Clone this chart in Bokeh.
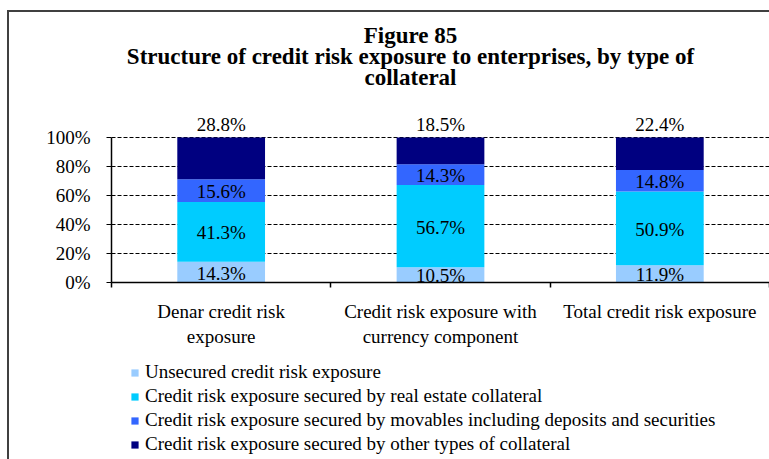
import numpy as np
from bokeh.plotting import figure
from bokeh.layouts import column
from bokeh.models import (Range1d, FixedTicker, NumeralTickFormatter, Legend,
                          LegendItem, Label, ColumnDataSource)
from bokeh.core.properties import value
from bokeh.embed import file_html
from bokeh.resources import INLINE

# ---------------- data ----------------
categories = ["Denar credit risk\nexposure",
              "Credit risk exposure with\ncurrency component",
              "Total credit risk exposure"]
series_names = ["Unsecured credit risk exposure",
                "Credit risk exposure secured by real estate collateral",
                "Credit risk exposure secured by movables including deposits and securities",
                "Credit risk exposure secured by other types of collateral"]
unsecured = [14.3, 10.5, 11.9]
real_estate = [41.3, 56.7, 50.9]
movables = [15.6, 14.3, 14.8]
other = [28.8, 18.5, 22.4]
y_ticks = [0, 20, 40, 60, 80, 100]
title_lines = ["Figure 85",
               "Structure of credit risk exposure to enterprises, by type of",
               "collateral"]

colors = ["#99CCFF", "#00CCFF", "#3366FF", "#000080"]
FONT = "Liberation Serif"
FS = "19px"

# ---------------- build ----------------
series_vals = [unsecured, real_estate, movables, other]
keys = ["s0", "s1", "s2", "s3"]
xs = [i + 0.5 for i in range(len(categories))]
data = {"x": xs}
for k, vals in zip(keys, series_vals):
    data[k] = [v / 100.0 for v in vals]
source = ColumnDataSource(data)

W = 760
p = figure(width=W, height=343,
           x_range=Range1d(0, 3.0), y_range=Range1d(0, 270 / 145),
           output_backend="svg", toolbar_location=None,
           min_border_left=102, min_border_right=0,
           min_border_top=0, min_border_bottom=73)
p.outline_line_color = None
p.background_fill_color = "white"
p.border_fill_color = "white"

renderers = p.vbar_stack(keys, x="x", width=0.4, source=source,
                         color=colors, line_color=None)

# segment labels
lab_x, lab_y, lab_t, lab_base, lab_off = [], [], [], [], []
bottoms = [0.0] * len(categories)
for si, vals in enumerate(series_vals):
    for ci, v in enumerate(vals):
        f = v / 100.0
        lab_x.append(xs[ci])
        lab_t.append(f"{v:.1f}%")
        if si == len(series_vals) - 1:
            lab_y.append(bottoms[ci] + f)
            lab_base.append("alphabetic")
            lab_off.append(-13)
        else:
            lab_y.append(bottoms[ci] + f / 2)
            lab_base.append("middle")
            lab_off.append(1)
        bottoms[ci] += f
lsrc = ColumnDataSource(dict(x=lab_x, y=lab_y, t=lab_t, b=lab_base, o=lab_off))
p.text(x="x", y="y", text="t", source=lsrc, text_align="center",
       text_baseline="b", y_offset="o", text_font=value(FONT),
       text_font_size=FS, text_color="black")

# y axis
yax = p.yaxis[0]
yax.ticker = FixedTicker(ticks=[t / 100.0 for t in y_ticks])
yax.formatter = NumeralTickFormatter(format="0%")
yax.bounds = (0, 1)
yax.axis_line_color = "black"
yax.axis_line_width = 1.5
yax.major_tick_out = 5
yax.major_tick_in = 0
yax.minor_tick_out = 0
yax.minor_tick_in = 0
yax.major_tick_line_color = "black"
yax.major_label_text_font = FONT
yax.major_label_text_font_size = FS
yax.major_label_text_color = "black"
yax.major_label_standoff = 16

# x axis
xax = p.xaxis[0]
xax.ticker = FixedTicker(ticks=xs, minor_ticks=list(range(len(categories) + 1)))
xax.major_label_overrides = {x: c for x, c in zip(xs, categories)}
xax.axis_line_color = "black"
xax.axis_line_width = 1.5
xax.major_tick_out = 0
xax.major_tick_in = 0
xax.minor_tick_out = 5
xax.minor_tick_in = 0
xax.minor_tick_line_color = "black"
xax.minor_tick_line_width = 1.5
xax.major_label_text_font = FONT
xax.major_label_text_font_size = FS
xax.major_label_text_color = "black"
xax.major_label_standoff = 13
xax.major_label_orientation = "horizontal"

# grid
p.xgrid.grid_line_color = None
p.ygrid.ticker = FixedTicker(ticks=[t / 100.0 for t in y_ticks])
p.ygrid.grid_line_color = "black"
p.ygrid.grid_line_dash = "4 2"
p.ygrid.grid_line_width = 1

# title lines (screen px from the plot frame's bottom-left)
for i, line in enumerate(title_lines):
    p.add_layout(Label(x=299, y=247 - 21 * i, x_units="screen", y_units="screen",
                       text=line, text_align="center", text_baseline="alphabetic",
                       text_font=FONT, text_font_size="23px",
                       text_font_style="bold", text_color="black"))

# legend figure below
p2 = figure(width=W, height=104, x_range=Range1d(-10, -9), y_range=Range1d(0, 1),
            output_backend="svg", toolbar_location=None,
            x_axis_type=None, y_axis_type=None,
            min_border_left=102, min_border_right=0,
            min_border_top=0, min_border_bottom=0)
p2.outline_line_color = None
p2.xgrid.grid_line_color = None
p2.ygrid.grid_line_color = None
r2 = p2.vbar_stack(keys, x="x", width=0.4, source=source,
                   color=colors, line_color=None)
legend = Legend(items=[LegendItem(label=n, renderers=[r])
                       for n, r in zip(series_names, r2)],
                location=(19, 4), orientation="vertical",
                glyph_width=9, glyph_height=9, label_standoff=6,
                label_height=22, spacing=2, padding=0, margin=0,
                label_text_font=FONT, label_text_font_size=FS,
                label_text_color="black",
                border_line_color=None, background_fill_alpha=0)
p2.add_layout(legend, "center")

layout = column(p, p2, spacing=0, margin=(10, 0, 0, 7),
                styles={"border-left": "2px solid #404040",
                        "border-top": "2px solid #404040"})
open("out.html", "w").write(file_html(layout, INLINE))
